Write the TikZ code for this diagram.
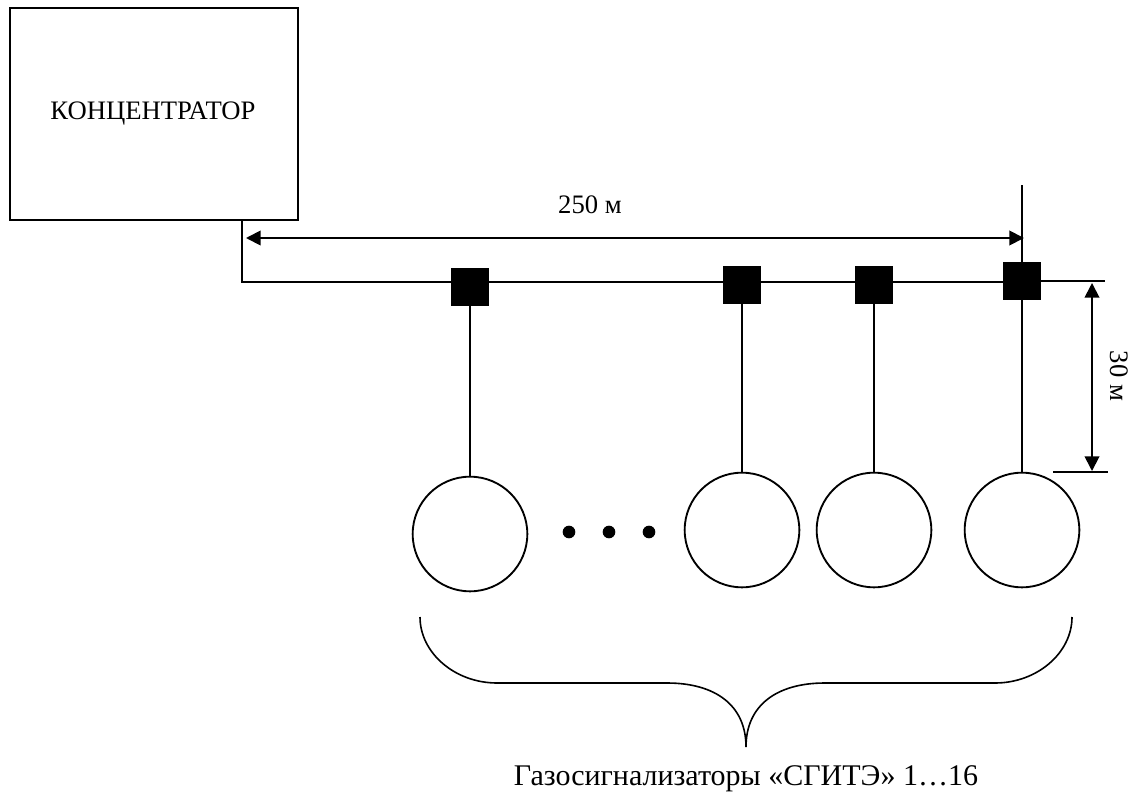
\documentclass[tikz,border=0pt]{standalone}
\usepackage{fontspec}
\setmainfont{Liberation Serif}
\usetikzlibrary{arrows.meta,backgrounds}
\begin{document}
\begin{tikzpicture}[x=0.75pt,y=-0.75pt,
  line width=1.4pt,
  conn/.style={draw=black,line width=1.4pt},
  sq/.style={draw=none,fill=black,minimum size=28.5pt,inner sep=0pt,outer sep=0pt},
  gas/.style={draw=black,circle,line width=1.4pt,minimum size=86pt,inner sep=0pt,outer sep=0pt},
  hub/.style={draw=black,rectangle,line width=1.4pt,minimum width=216pt,minimum height=159pt,inner sep=0pt,outer sep=0pt},
  dimarrow/.style={line width=1.4pt,{Triangle[length=11pt,width=11pt]}-{Triangle[length=11pt,width=11pt]}},
  lbl/.style={font=\fontsize{20}{24}\selectfont,inner sep=0pt},
  biglbl/.style={font=\fontsize{22.5}{27}\selectfont,inner sep=0pt},
  dot/.style={fill=black,circle,minimum size=9.5pt,inner sep=0pt,draw=none}
]
\useasboundingbox (0,0) rectangle (1138,799);

% concentrator
\node[hub] (hub) at (154,114) {};
\node[lbl,anchor=base] (hubtxt) at (153,119) {КОНЦЕНТРАТОР};

% junction squares
\node[sq] (s1) at (470,287) {};
\node[sq] (s2) at (742,285) {};
\node[sq] (s3) at (874,285) {};
\node[sq] (s4) at (1022,281) {};

% gas detectors
\node[gas] (g1) at (470,534) {};
\node[gas] (g2) at (742,530) {};
\node[gas] (g3) at (874,530) {};
\node[gas] (g4) at (1022,530) {};

% dots
\node[dot] (d1) at (569,532) {};
\node[dot] (d2) at (609,532) {};
\node[dot] (d3) at (649,532) {};

% coordinates
\coordinate (hb) at (242,220);
\coordinate (c0) at (242,282);
\coordinate (top4) at (1022,185);
\coordinate (a1) at (246,238);
\coordinate (a2) at (1024,238);
\coordinate (e1) at (1105,281);
\coordinate (e2) at (1053,472);
\coordinate (e3) at (1108,472);
\coordinate (v1) at (1092,283);
\coordinate (v2) at (1092,471);

\begin{scope}[on background layer]
  \draw[conn] (hb) -- (c0) -- (c0 -| s4.center);
  \draw[conn] (top4) -- (g4.north);
\end{scope}

\draw[conn] (s1.south) -- (g1.north);
\draw[conn] (s2.south) -- (g2.north);
\draw[conn] (s3.south) -- (g3.north);

% 250 m dimension
\draw[dimarrow] (a1) -- (a2);
\node[lbl,anchor=base] (t250) at (590,213) {250 м};

% 30 m dimension
\draw[conn] (s4.east) -- (e1);
\draw[conn] (e2) -- (e3);
\draw[dimarrow] (v1) -- (v2);
\node[lbl,rotate=-90] (t30) at (1119,376) {30 м};

% brace
\coordinate (bl) at (420,617);
\coordinate (br) at (1072,617);
\coordinate (btip) at (746,747);
\draw[line width=1.2pt] (bl) .. controls (420,653) and (455,683) .. (497,683)
  -- (667,683) .. controls (715,683) and (746,705) .. (btip)
  .. controls (746,705) and (777,683) .. (825,683)
  -- (995,683) .. controls (1037,683) and (1072,653) .. (br);

\node[biglbl,anchor=base] (cap) at (746,785) {Газосигнализаторы «СГИТЭ» 1…16};
\end{tikzpicture}
\end{document}
